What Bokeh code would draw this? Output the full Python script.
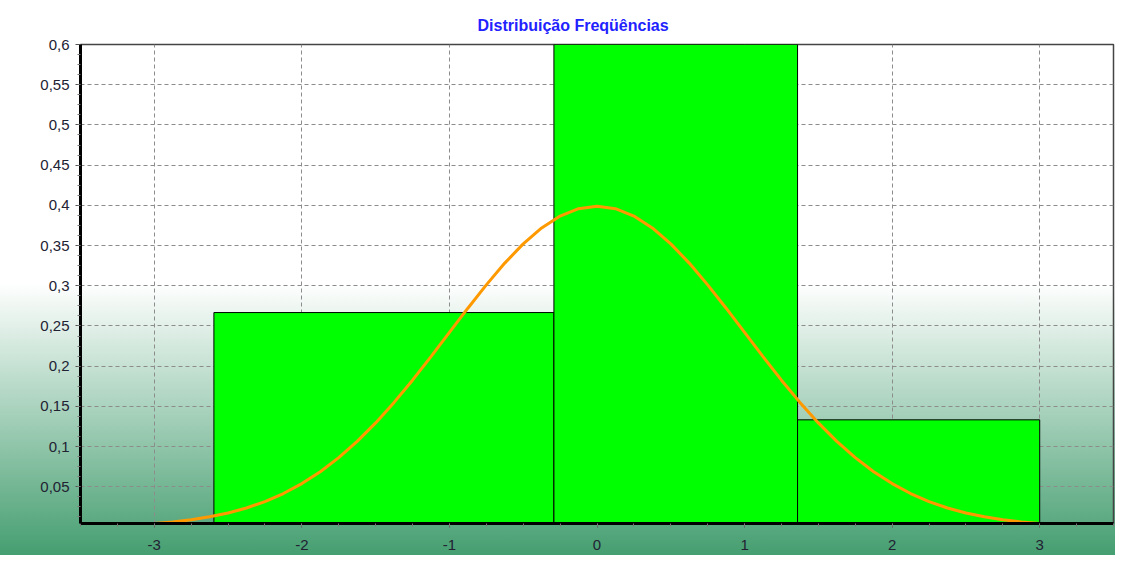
from bokeh.plotting import figure
from bokeh.models import FixedTicker, CustomJSTickFormatter, ColumnDataSource, Range1d
from bokeh.embed import file_html
from bokeh.resources import INLINE

# ---------------- data ----------------
chart_title = "Distribuição Freqüências"

bin_left = [-2.596, -0.292, 1.359]
bin_right = [-0.292, 1.359, 3.0]
bin_height = [0.2667, 0.6, 0.1333]

curve_x = [-3.0, -2.875, -2.75, -2.625, -2.5, -2.375, -2.25, -2.125, -2.0,
           -1.875, -1.75, -1.625, -1.5, -1.375, -1.25, -1.125, -1.0,
           -0.875, -0.75, -0.625, -0.5, -0.375, -0.25, -0.125, 0.0,
           0.125, 0.25, 0.375, 0.5, 0.625, 0.75, 0.875, 1.0,
           1.125, 1.25, 1.375, 1.5, 1.625, 1.75, 1.875, 2.0,
           2.125, 2.25, 2.375, 2.5, 2.625, 2.75, 2.875, 3.0]
curve_y = [0.0044, 0.0064, 0.0091, 0.0127, 0.0175, 0.0237, 0.0317, 0.0417, 0.0540,
           0.0688, 0.0863, 0.1065, 0.1295, 0.1550, 0.1826, 0.2119, 0.2420,
           0.2721, 0.3011, 0.3282, 0.3521, 0.3719, 0.3867, 0.3958, 0.3989,
           0.3958, 0.3867, 0.3719, 0.3521, 0.3282, 0.3011, 0.2721, 0.2420,
           0.2119, 0.1826, 0.1550, 0.1295, 0.1065, 0.0863, 0.0688, 0.0540,
           0.0417, 0.0317, 0.0237, 0.0175, 0.0127, 0.0091, 0.0064, 0.0044]

x_ticks = [-3, -2, -1, 0, 1, 2, 3]
x_tick_labels = ["-3", "-2", "-1", "0", "1", "2", "3"]
y_ticks = [0.05, 0.1, 0.15, 0.2, 0.25, 0.3, 0.35, 0.4, 0.45, 0.5, 0.55, 0.6]
y_tick_labels = ["0,05", "0,1", "0,15", "0,2", "0,25", "0,3", "0,35", "0,4",
                 "0,45", "0,5", "0,55", "0,6"]

x_min, x_max = -3.5, 3.5
y_min, y_max = 0.0044, 0.6

# ---------------- figure ----------------
p = figure(width=1115, height=555, output_backend="svg", toolbar_location=None,
           x_range=Range1d(x_min, x_max), y_range=Range1d(y_min, y_max),
           min_border_left=80, min_border_right=2, min_border_top=44,
           min_border_bottom=32)

p.styles = {"background-image":
            "linear-gradient(to bottom, #ffffff 0%, #ffffff 51%, rgb(69,158,112) 100%)"}
p.background_fill_alpha = 0
p.border_fill_alpha = 0
p.outline_line_color = "#444444"
p.outline_line_width = 1.5

p.title.text = chart_title
p.title.text_font = "Liberation Sans"
p.title.text_font_size = "16px"
p.title.text_font_style = "bold"
p.title.text_color = "#2222ff"
p.title.align = "left"
p.title.offset = 397
p.title.standoff = 22

src = ColumnDataSource(dict(left=bin_left, right=bin_right, top=bin_height,
                            bottom=[0] * len(bin_height)))
p.quad(left="left", right="right", top="top", bottom="bottom", source=src,
       fill_color="#00ff00", line_color="black", line_width=1)
p.line(curve_x, curve_y, line_color="#ff9900", line_width=3)

# ticks
x_minor = [x_min + 0.25 * i for i in range(29)]
y_minor = [0.0125 * i for i in range(1, 49)]
p.xaxis.ticker = FixedTicker(ticks=x_ticks, minor_ticks=x_minor)
p.yaxis.ticker = FixedTicker(ticks=y_ticks, minor_ticks=y_minor)
p.xaxis.formatter = CustomJSTickFormatter(args=dict(t=x_ticks, l=x_tick_labels), code="""
for (let i = 0; i < t.length; i++) { if (Math.abs(tick - t[i]) < 1e-9) return l[i]; }
return "";
""")
p.yaxis.formatter = CustomJSTickFormatter(args=dict(t=y_ticks, l=y_tick_labels), code="""
for (let i = 0; i < t.length; i++) { if (Math.abs(tick - t[i]) < 1e-9) return l[i]; }
return "";
""")

for ax in (p.xaxis, p.yaxis):
    ax.axis_line_color = "black"
    ax.axis_line_width = 3
    ax.major_tick_line_color = "#555555"
    ax.minor_tick_line_color = "#777777"
    ax.major_tick_in = 0
    ax.minor_tick_in = 0
    ax.major_label_text_font = "Liberation Sans"
    ax.major_label_text_font_size = "15px"
    ax.major_label_text_color = "#222233"

p.xaxis.major_tick_out = 4
p.xaxis.minor_tick_out = 3
p.xaxis.major_label_standoff = 12
p.yaxis.major_tick_out = 5
p.yaxis.minor_tick_out = 3
p.yaxis.major_label_standoff = 6

p.grid.grid_line_color = "#8c8c8c"
p.grid.grid_line_dash = "4 3"
p.grid.grid_line_width = 1
p.xgrid.ticker = FixedTicker(ticks=x_ticks)
p.ygrid.ticker = FixedTicker(ticks=y_ticks)

open("out.html", "w").write(file_html(p, INLINE))
